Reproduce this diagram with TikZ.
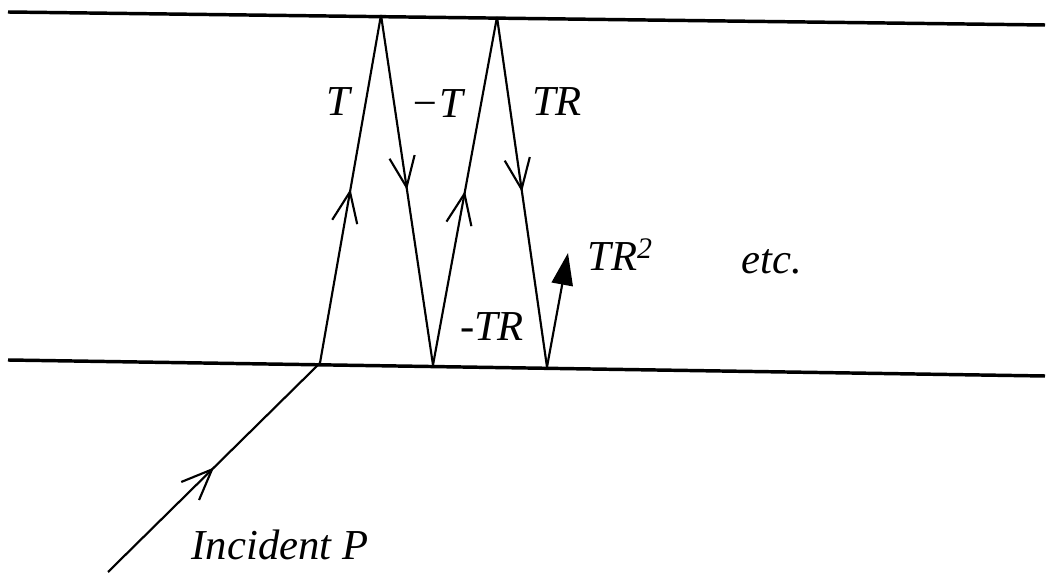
\documentclass[tikz,border=0pt]{standalone}
\usepackage{fontspec}
\setmainfont{Liberation Serif}
\usetikzlibrary{arrows.meta,decorations.markings}
\tikzset{
  surface/.style={line width=2.6pt},
  ray/.style={line width=1.6pt, postaction={decorate},
    decoration={markings, mark=at position 0.5 with {\arrow{Straight Barb[length=23pt,width=19pt,line width=1.6pt]}}}},
  lbl/.style={font=\fontsize{32}{36}\selectfont\itshape, inner sep=0pt}
}
\begin{document}
\begin{tikzpicture}[x=0.75pt,y=-0.75pt]
\useasboundingbox (0,0) rectangle (1051,573);
% surfaces
\coordinate (tl) at (8,12);
\coordinate (tr) at (1045,25);
\coordinate (bl) at (8,360);
\coordinate (br) at (1045,376);
\draw[surface] (tl) -- (tr);
\draw[surface] (bl) -- (br);
% ray vertices
\coordinate (s) at (108,572);
\coordinate (b1) at (320,363);
\coordinate (t1) at (381,15);
\coordinate (b2) at (433,365);
\coordinate (t2) at (497,17);
\coordinate (b3) at (547,367);
\coordinate (e) at (568,253);
\draw[ray] (s) -- (b1);
\draw[ray] (b1) -- (t1);
\draw[ray] (t1) -- (b2);
\draw[ray] (b2) -- (t2);
\draw[ray] (t2) -- (b3);
\draw[line width=1.6pt, -{Triangle[length=24pt,width=16pt]}] (b3) -- (e);
% labels
\node[lbl] (lT) at (338,102) {T};
\node[lbl] (lmT) at (437,104) {−T};
\node[lbl] (lTR) at (557,102) {TR};
\node[lbl] (lTR2) at (620,255) {TR\textsuperscript{2}};
\node[lbl] (letc) at (772,262) {etc.};
\node[lbl] (lmTR) at (492,327) {-TR};
\node[lbl] (linc) at (280,545) {Incident P};
\end{tikzpicture}
\end{document}
